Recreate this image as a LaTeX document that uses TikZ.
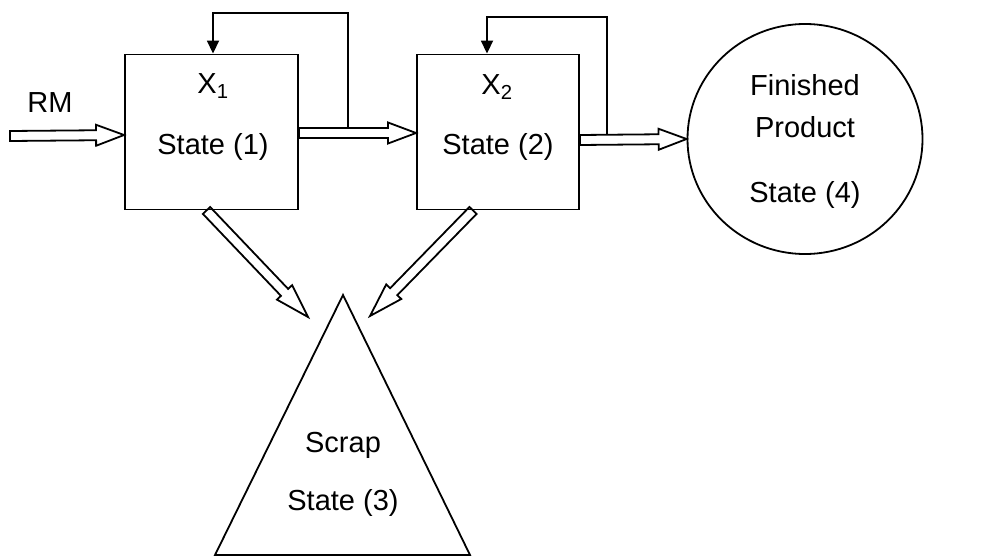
\documentclass[tikz,border=0pt]{standalone}
\usepackage{fontspec}
\setmainfont{Liberation Sans}
\usetikzlibrary{calc,arrows.meta,shapes.geometric}

\newcommand\headlen{28pt}
\tikzset{
  lbl/.style={font=\fontsize{29}{34}\selectfont, inner sep=0pt},
  statebox/.style={draw, line width=1.9pt, inner sep=0pt},
  head length/.code={\renewcommand\headlen{#1}},
  % hollow block arrow drawn as a closed outline from start to target
  hollow/.style={draw, line width=1.8pt, line join=miter,
    to path={
      ($(\tikztostart)!5pt!90:(\tikztotarget)$)
      -- ($(\tikztotarget)!\headlen!(\tikztostart)!5pt!90:(\tikztotarget)$)
      -- ($(\tikztotarget)!\headlen!(\tikztostart)!10.5pt!90:(\tikztotarget)$)
      -- (\tikztotarget)
      -- ($(\tikztotarget)!\headlen!(\tikztostart)!10.5pt!-90:(\tikztotarget)$)
      -- ($(\tikztotarget)!\headlen!(\tikztostart)!5pt!-90:(\tikztotarget)$)
      -- ($(\tikztostart)!5pt!-90:(\tikztotarget)$)
      -- cycle}},
  feedback/.style={draw, line width=1.8pt, -{Triangle[width=12pt,length=13pt]}}
}

\begin{document}
\begin{tikzpicture}[x=1pt,y=-1pt]
  \useasboundingbox (0,0) rectangle (984,557);

  % process stages
  \node[statebox, minimum width=173pt, minimum height=155pt] (b1) at (211.5,132) {};
  \node[statebox, minimum width=162pt, minimum height=155pt] (b2) at (498,132) {};
  \node[lbl] (x1) at (213,86) {X\textsubscript{1}};
  \node[lbl] (st1) at (213,147) {State (1)};
  \node[lbl] (x2) at (497,87) {X\textsubscript{2}};
  \node[lbl] (st2) at (498,147) {State (2)};

  % finished product
  \node[draw, ellipse, line width=1.8pt, minimum width=235pt, minimum height=230pt, inner sep=0pt] (fp) at (805,139) {};
  \node[lbl] (fin) at (805,85) {Finished};
  \node[lbl] (prod) at (805,127) {Product};
  \node[lbl] (st4) at (805,195) {State (4)};

  % scrap
  \coordinate (apex) at (343,295);
  \coordinate (baseL) at (215,555);
  \coordinate (baseR) at (470,555);
  \draw[line width=1.8pt, line join=miter] (apex) -- (baseR) -- (baseL) -- cycle;
  \node[lbl] (scrap) at (343,445) {Scrap};
  \node[lbl] (st3) at (343,503) {State (3)};

  % raw material input
  \node[lbl] (rm) at (50,103) {RM};
  \coordinate (rmtail) at (10,136);

  % flows between states
  \draw[hollow] (rmtail) to ([yshift=-3pt]b1.west);
  \draw[hollow] ([yshift=-1pt]b1.east) to ([yshift=-1pt]b2.west);
  \draw[hollow] ([yshift=-8pt]b2.east) to (fp.west);

  \coordinate (s1) at (308,317);
  \coordinate (s2) at (370,316);
  \draw[hollow, head length=34pt] ([xshift=-5pt]b1.south) to (s1);
  \draw[hollow, head length=34pt] ([xshift=-25pt]b2.south) to (s2);

  % recycle loops
  \coordinate (j1) at (348,128);
  \coordinate (k1) at (348,13);
  \draw[feedback] (j1) -- (k1) -| ([xshift=1.5pt]b1.north);
  \coordinate (j2) at (607,135);
  \coordinate (k2) at (607,17);
  \draw[feedback] (j2) -- (k2) -| ([xshift=-11pt]b2.north);
\end{tikzpicture}
\end{document}
